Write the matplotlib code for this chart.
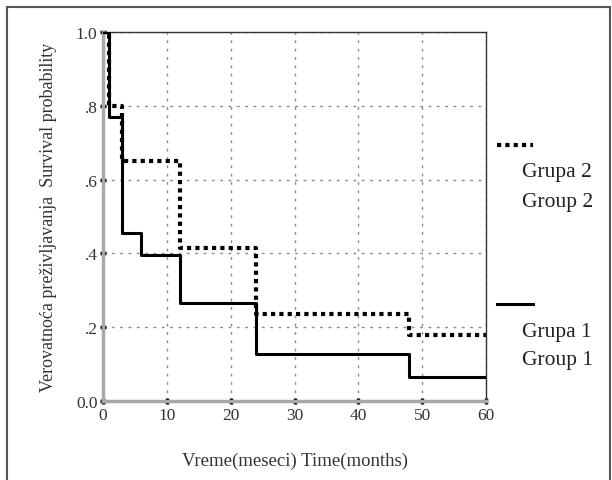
import matplotlib.pyplot as plt
from matplotlib.patches import Rectangle

# Kaplan-Meier steps
g1_t = [0, 1, 3, 6, 12, 24, 48, 60]
g1_s = [1.0, 0.77, 0.455, 0.395, 0.265, 0.128, 0.065, 0.065]
g2_t = [0, 1, 3, 12, 24, 48, 60]
g2_s = [1.0, 0.80, 0.65, 0.415, 0.235, 0.18, 0.18]

xticks = [0, 10, 20, 30, 40, 50, 60]
yticks = [0.0, 0.2, 0.4, 0.6, 0.8, 1.0]
ylabels = ['0.0', '.2', '.4', '.6', '.8', '1.0']

plt.rcParams['font.family'] = ['Liberation Serif', 'DejaVu Serif']

fig = plt.figure(figsize=(6.12, 4.81), dpi=100)
fig.patches.append(Rectangle((7/612, -0.01), 603/612, 1 - 8/481 + 0.01,
                             transform=fig.transFigure, fill=False,
                             ec='#555555', lw=1.5))

ax = fig.add_axes([103/612, 1 - 402/481, 383/612, 369/481])

ax.step(g2_t, g2_s, where='post', color='black', lw=3,
        linestyle=(0, (1, 1)), zorder=3)
ax.step(g1_t, g1_s, where='post', color='black', lw=2.2, zorder=4)

ax.set_xlim(0, 60)
ax.set_ylim(0, 1)
ax.set_xticks(xticks)
ax.set_yticks(yticks)
ax.set_yticklabels(ylabels)
ax.grid(True, color='#8a8a8a', linestyle=(0, (2, 4)), lw=1.0)

for s in ['left', 'bottom']:
    ax.spines[s].set_color('#a8a8a8')
    ax.spines[s].set_linewidth(2.5)
for s in ['top', 'right']:
    ax.spines[s].set_color('#333333')
    ax.spines[s].set_linewidth(1.0)

ax.tick_params(direction='inout', length=4, width=2.5, color='black',
               labelsize=12.5, pad=2, labelcolor='#333333')

ax.set_xlabel('Vreme(meseci) Time(months)', fontsize=13.5, color='#333333')
ax.xaxis.set_label_coords(0.5, -(453 - 402) / 369)
ax.set_ylabel('Verovatnoća preživljavanja  Survival probability',
              fontsize=13, color='#333333')
ax.yaxis.set_label_coords(-(103 - 57) / 383, 0.5)

# legend drawn by hand at the right
fig.add_artist(plt.Line2D([497/612, 533/612], [1 - 146/481] * 2,
                          color='black', lw=3, linestyle=(0, (1, 1))))
fig.add_artist(plt.Line2D([497/612, 533/612], [1 - 305/481] * 2,
                          color='black', lw=2.2))
for txt, yy in [('Grupa 2', 172), ('Group 2', 203),
                ('Grupa 1', 332), ('Group 1', 360)]:
    fig.text(522/612, 1 - yy/481, txt, fontsize=15.5, va='center',
             color='#222222')

fig.savefig('out.png', dpi=100)
